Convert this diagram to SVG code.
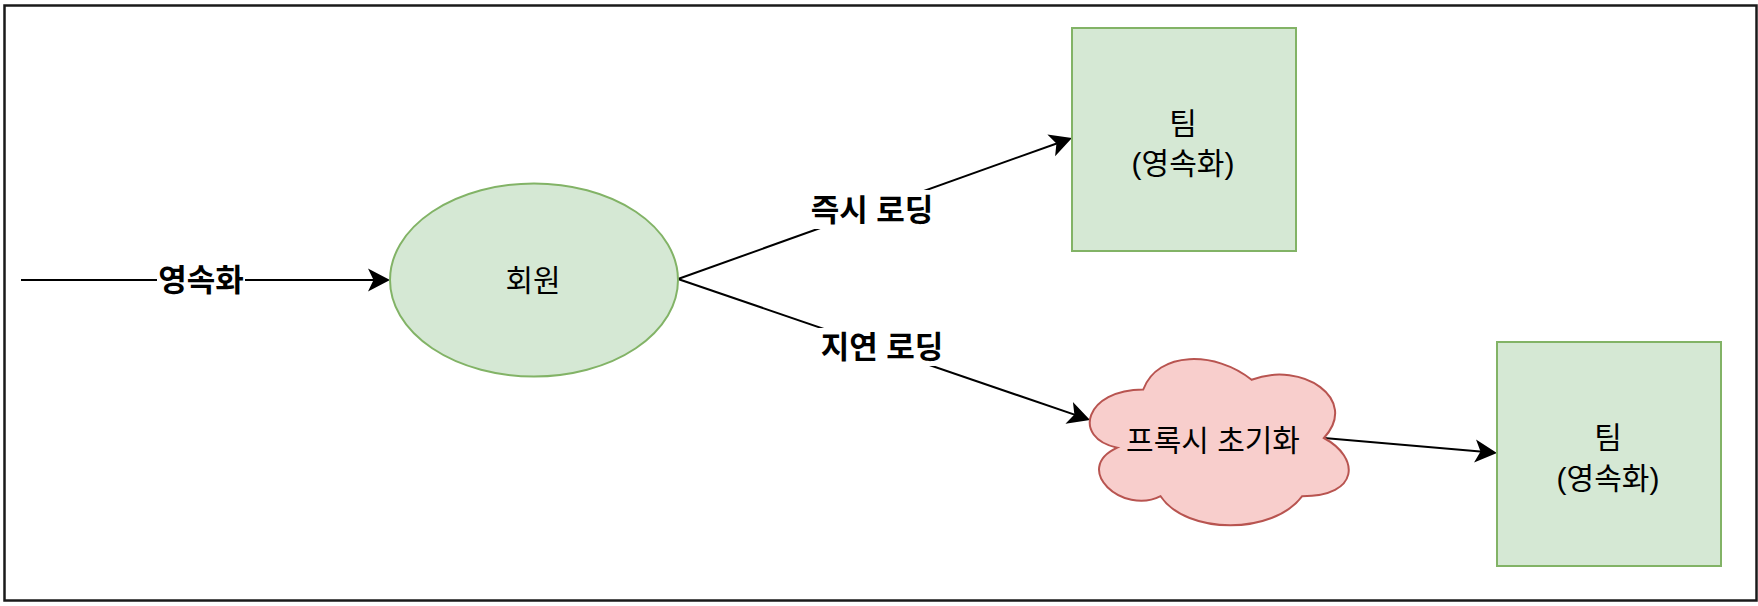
<svg xmlns="http://www.w3.org/2000/svg" width="1758" height="606" viewBox="0 0 1758 606">
<style>
  .green { fill: #d5e8d4; stroke: #82b366; stroke-width: 2; }
  .red { fill: #f8cecc; stroke: #b85450; stroke-width: 2; }
  .node-text { font-family: "Liberation Sans", "Noto Sans CJK KR", sans-serif; font-size: 30px; fill: #000; text-anchor: middle; }
  .edge-label { font-family: "Liberation Sans", "Noto Sans CJK KR", sans-serif; font-size: 31px; font-weight: bold; fill: #000; text-anchor: middle; }
  .edge { fill: none; stroke: #000; stroke-width: 2; marker-end: url(#arrow); }
  .label-bg { fill: #fff; }
</style>
<defs>
  <marker id="arrow" markerUnits="userSpaceOnUse" viewBox="-14 -14 28 28" markerWidth="28" markerHeight="28" refX="0" refY="0" orient="auto">
    <path d="M11,0 L-11,-11.5 L-5.5,0 L-11,11.5 Z" fill="#000" stroke="none"/>
  </marker>
</defs>
<rect x="0" y="0" width="1758" height="606" fill="#fff"/>
<rect id="frame" x="4.5" y="5.5" width="1752" height="595" fill="none" stroke="#1a1a1a" stroke-width="2.5"/>

<g id="connectors">
  <path class="edge" d="M21,280 L379,280"/>
  <path class="edge" d="M678,279 L1061.6,141.7"/>
  <path class="edge" d="M678,279 L1079.6,416.4"/>
  <path class="edge" d="M1323.9,438 L1486,452"/>
  <rect class="label-bg" x="157" y="262" width="88" height="36"/>
  <text class="edge-label" x="201" y="291">영속화</text>
  <rect class="label-bg" x="809" y="190" width="126" height="39"/>
  <text class="edge-label" x="872" y="221">즉시 로딩</text>
  <rect class="label-bg" x="818" y="328" width="128" height="38"/>
  <text class="edge-label" x="882" y="358">지연 로딩</text>
</g>

<g id="member">
  <ellipse class="green" cx="534" cy="280" rx="144" ry="96.5"/>
  <text class="node-text" x="533" y="291">회원</text>
</g>

<g id="team-eager">
  <rect class="green" x="1072" y="28" width="224" height="223"/>
  <text class="node-text" x="1183" y="134">팀</text>
  <text class="node-text" x="1183" y="174">(영속화)</text>
</g>

<g id="proxy">
  <path class="red" d="M1143.25,389.5 C1085.45,389.5 1071,438 1117.24,447.7 C1071,469.04 1123.02,515.6 1160.59,496.2 C1186.6,535 1273.3,535 1302.2,496.2 C1360,496.2 1360,457.4 1323.875,438 C1360,399.2 1302.2,360.4 1251.625,379.8 C1215.5,350.7 1157.7,350.7 1143.25,389.5 Z"/>
  <text class="node-text" x="1213" y="451">프록시 초기화</text>
</g>

<g id="team-lazy">
  <rect class="green" x="1497" y="342" width="224" height="224"/>
  <text class="node-text" x="1608" y="448">팀</text>
  <text class="node-text" x="1608" y="489">(영속화)</text>
</g>
</svg>
